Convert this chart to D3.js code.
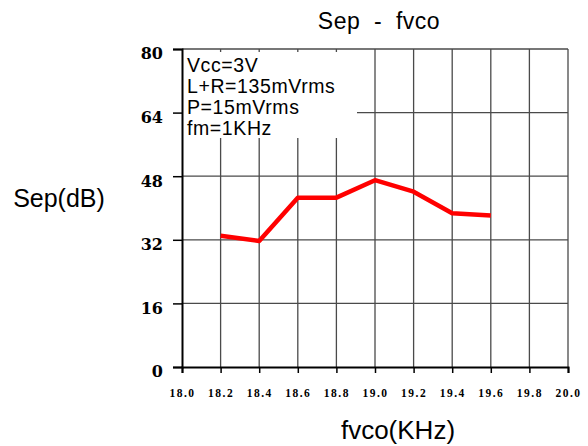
<!DOCTYPE html>
<html><head><meta charset="utf-8">
<script src="https://cdn.jsdelivr.net/npm/d3@7"></script>
<style>body{margin:0;background:#fff}svg{display:block}</style>
</head><body>
<script>
const fvco = [18.2, 18.4, 18.6, 18.8, 19.0, 19.2, 19.4, 19.6];
const sep = [33.0, 31.7, 42.6, 42.6, 47.0, 44.1, 38.7, 38.1];
const xTicks = [18.0, 18.2, 18.4, 18.6, 18.8, 19.0, 19.2, 19.4, 19.6, 19.8, 20.0];
const yTicks = [0, 16, 32, 48, 64, 80];
const notes = ["Vcc=3V", "L+R=135mVrms", "P=15mVrms", "fm=1KHz"];
const title = "Sep  -  fvco";
const xTitle = "fvco(KHz)";
const yTitle = "Sep(dB)";

const W = 588, H = 446;
const svg = d3.select("body").append("svg").attr("width", W).attr("height", H);
const x = d3.scaleLinear().domain([18, 20]).range([182, 568]);
const y = d3.scaleLinear().domain([0, 80]).range([367, 49]);

// grid
const grid = svg.append("g").attr("stroke", "#4a4a4a").attr("stroke-width", 1.3);
grid.selectAll("line.v").data(xTicks.slice(1)).join("line")
  .attr("x1", d => x(d)).attr("x2", d => x(d)).attr("y1", y(80)).attr("y2", y(0));
grid.selectAll("line.h").data(yTicks.slice(1)).join("line")
  .attr("x1", x(18)).attr("x2", x(20)).attr("y1", d => y(d)).attr("y2", d => y(d));

// annotation box (white background)
svg.append("rect").attr("x", x(18) + 1).attr("y", y(80) + 3)
  .attr("width", 174).attr("height", 86).attr("fill", "#fff");

// axes
const yAxis = d3.axisLeft(y).tickValues(yTicks).tickSize(9).tickFormat(d3.format("d"));
const gy = svg.append("g").attr("transform", `translate(${x(18)},0)`).call(yAxis);
gy.select(".domain").attr("stroke", "#000").attr("stroke-width", 2);
gy.selectAll(".tick line").attr("stroke", "#000").attr("stroke-width", 1.5).attr("x2", -9);
gy.selectAll(".tick text").attr("font-family", "DejaVu Serif").attr("font-weight", "bold")
  .attr("font-size", 16).attr("fill", "#000").attr("x", -19).attr("dy", "0.62em");

const xAxis = d3.axisBottom(x).tickValues(xTicks).tickSize(6).tickFormat(d3.format(".1f"));
const gx = svg.append("g").attr("transform", `translate(0,${y(0)})`).call(xAxis);
gx.select(".domain").attr("stroke", "#000").attr("stroke-width", 2);
gx.selectAll(".tick line").attr("stroke", "#000").attr("stroke-width", 1.5);
gx.selectAll(".tick text").attr("font-family", "Liberation Serif").attr("font-weight", "bold")
  .attr("font-size", 11.5).attr("fill", "#000").attr("letter-spacing", 1.5).attr("y", 22);

// line
svg.append("path").datum(fvco.map((d, i) => [d, sep[i]]))
  .attr("fill", "none").attr("stroke", "#ff0000").attr("stroke-width", 4.5)
  .attr("stroke-linejoin", "round")
  .attr("d", d3.line().x(d => x(d[0])).y(d => y(d[1])));

// notes
const sans = "Liberation Sans, Arial, sans-serif";
svg.append("g").selectAll("text").data(notes).join("text")
  .attr("x", 187).attr("y", (d, i) => [72, 93, 114, 135][i])
  .attr("font-family", sans).attr("font-size", 19.5).attr("letter-spacing", 0.6)
  .attr("fill", "#000").text(d => d);

// titles
svg.append("text").attr("x", 379).attr("y", 29).attr("text-anchor", "middle")
  .attr("font-family", sans).attr("font-size", 23).attr("letter-spacing", 0.5)
  .style("white-space", "pre").text(title);
svg.append("text").attr("x", 59).attr("y", 207).attr("text-anchor", "middle")
  .attr("font-family", sans).attr("font-size", 25).text(yTitle);
svg.append("text").attr("x", 398).attr("y", 439).attr("text-anchor", "middle")
  .attr("font-family", sans).attr("font-size", 26).text(xTitle);
</script>
</body></html>
